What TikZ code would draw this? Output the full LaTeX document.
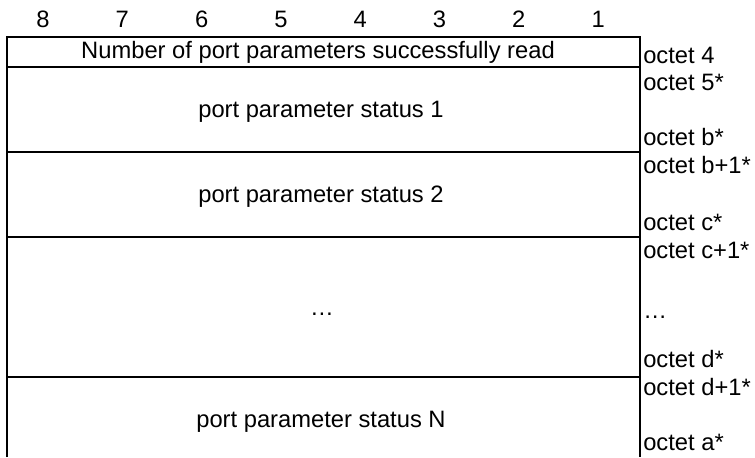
\documentclass[tikz,border=0pt]{standalone}
\usepackage{fontspec}
\setmainfont{Liberation Sans}
\usepackage{tikz}

\begin{document}
\begin{tikzpicture}[x=0.75pt, y=-0.75pt, every node/.style={inner sep=0pt, anchor=base, font=\fontsize{17.8}{20}\selectfont}, frame/.style={draw=black, line width=1.5pt}, octet/.style={anchor=base west}]
			\useasboundingbox (0,0) rectangle (755,457);
			% bit numbers
			\foreach \b in {1,...,8}
				\node (bit\b) at (43+79.3*8-79.3*\b,27){\b};
			
			% frame
			\draw[frame] (7,457) -- (7,37) -- (640,37) -- (640,457);
			\draw[frame] (7,67) -- (640,67);
			\draw[frame] (7,152) -- (640,152);
			\draw[frame] (7,237) -- (640,237);
			\draw[frame] (7,377) -- (640,377);
			
			% field contents
			\node (num) at (318,58){Number of port parameters successfully read};
			\node (st1) at (321,117){port parameter status 1};
			\node (st2) at (321,202){port parameter status 2};
			\node (dots) at (322,315){\dots};
			\node (stN) at (321,427){port parameter status N};
			
			% octet labels
			\node[octet] (o4) at (643,63){octet 4};
			\node[octet] (o5) at (643,90){octet 5*};
			\node[octet] (ob) at (643,145){octet b*};
			\node[octet] (ob1) at (643,173){octet b+1*};
			\node[octet] (oc) at (643,230){octet c*};
			\node[octet] (oc1) at (643,258){octet c+1*};
			\node[octet] (odots) at (643,318){\dots};
			\node[octet] (od) at (643,367){octet d*};
			\node[octet] (od1) at (643,395){octet d+1*};
			\node[octet] (oa) at (643,450){octet a*};
			\end{tikzpicture}
\end{document}
